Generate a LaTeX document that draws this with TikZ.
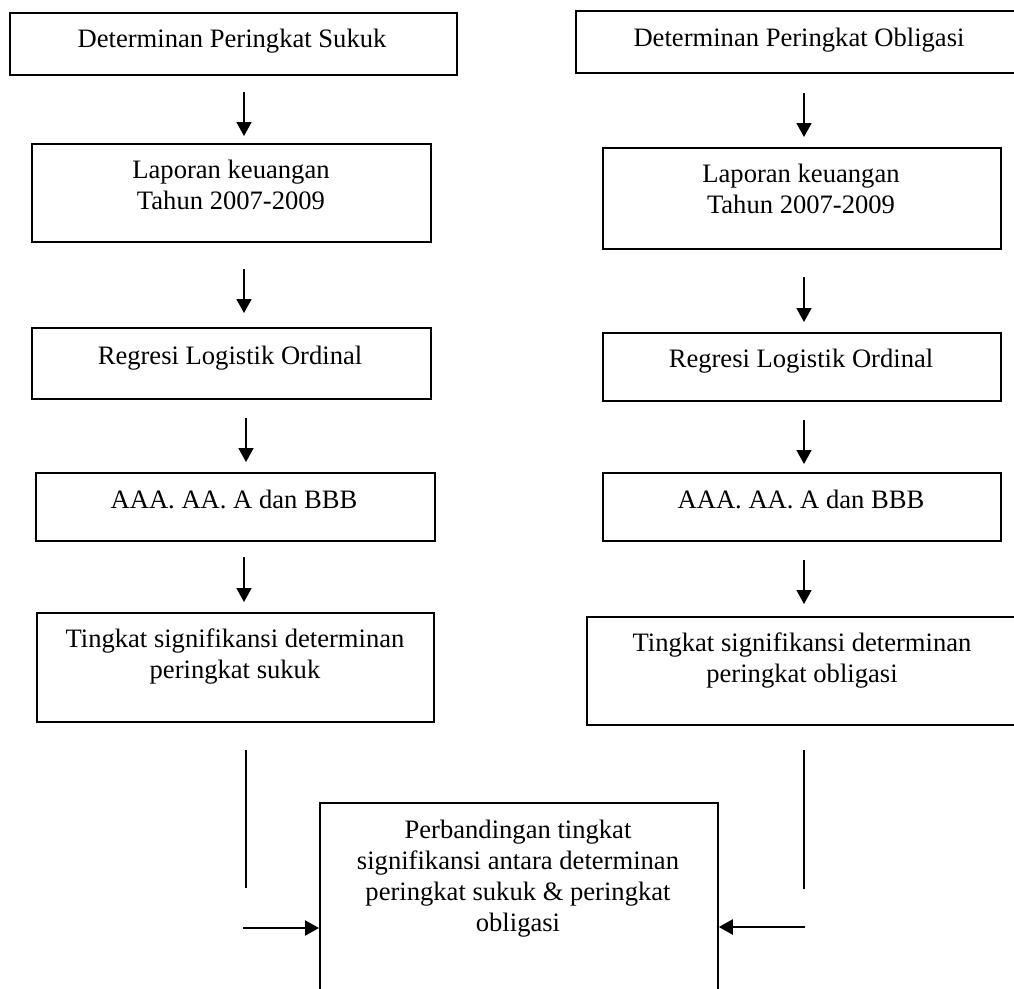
\documentclass[tikz,border=0pt]{standalone}
\usepackage{fontspec}
\setmainfont{Liberation Serif}
\usetikzlibrary{arrows.meta}
\begin{document}
\begin{tikzpicture}[x=1pt,y=-1pt,
  box/.style={draw=black, line width=1.8pt, rectangle, inner sep=0pt, anchor=north west},
  lbl/.style={anchor=base, align=center, inner sep=0pt, font=\fontsize{26.6}{31}\selectfont},
  arr/.style={line width=1.7pt, -{Triangle[width=15pt,length=14pt]}},
  plain/.style={line width=1.4pt}
]
\useasboundingbox (0,0) rectangle (1014,988);
\clip (0,0) rectangle (1014,988);
\fill[white] (0,0) rectangle (1014,988);

% left column boxes
\node[box, minimum width=447pt, minimum height=62pt] (L1) at (9,12) {};
\node[box, minimum width=399pt, minimum height=98pt] (L2) at (31,143) {};
\node[box, minimum width=399pt, minimum height=71pt] (L3) at (31,327) {};
\node[box, minimum width=399pt, minimum height=68pt] (L4) at (35,472) {};
\node[box, minimum width=397pt, minimum height=109pt] (L5) at (36,612) {};

% right column boxes
\node[box, minimum width=460pt, minimum height=62pt] (R1) at (575,10) {};
\node[box, minimum width=398pt, minimum height=101pt] (R2) at (602,147) {};
\node[box, minimum width=398pt, minimum height=68pt] (R3) at (602,332) {};
\node[box, minimum width=398pt, minimum height=68pt] (R4) at (602,472) {};
\node[box, minimum width=440pt, minimum height=108pt] (R5) at (586,616) {};

% bottom box
\node[box, minimum width=398pt, minimum height=220pt] (B) at (319,802) {};

% texts (anchor = baseline of last line)
\node[lbl] (tL1) at (232,47) {Determinan Peringkat Sukuk};
\node[lbl] (tL2) at (231,209) {Laporan keuangan\\Tahun 2007-2009};
\node[lbl] (tL3) at (230,364) {Regresi Logistik Ordinal};
\node[lbl] (tL4) at (234,508) {AAA. AA. A dan BBB};
\node[lbl] (tL5) at (235,678) {Tingkat signifikansi determinan\\peringkat sukuk};

\node[lbl] (tR1) at (799,46) {Determinan Peringkat Obligasi};
\node[lbl] (tR2) at (801,213) {Laporan keuangan\\Tahun 2007-2009};
\node[lbl] (tR3) at (801,367) {Regresi Logistik Ordinal};
\node[lbl] (tR4) at (801,508) {AAA. AA. A dan BBB};
\node[lbl] (tR5) at (802,682) {Tingkat signifikansi determinan\\peringkat obligasi};

\node[lbl] (tB) at (518,931) {Perbandingan tingkat\\signifikansi antara determinan\\peringkat sukuk \& peringkat\\obligasi};

% arrow end points
\coordinate (a1s) at (244,92);  \coordinate (a1e) at (244,136);
\coordinate (a2s) at (244,269); \coordinate (a2e) at (244,313);
\coordinate (a3s) at (246,418); \coordinate (a3e) at (246,462);
\coordinate (a4s) at (244,557); \coordinate (a4e) at (244,602);
\coordinate (b1s) at (804,93);  \coordinate (b1e) at (804,137);
\coordinate (b2s) at (804,277); \coordinate (b2e) at (804,322);
\coordinate (b3s) at (804,420); \coordinate (b3e) at (804,464);
\coordinate (b4s) at (804,560); \coordinate (b4e) at (804,604);
\coordinate (lvs) at (246,750); \coordinate (lve) at (246,888);
\coordinate (rvs) at (804,750); \coordinate (rve) at (804,889);
\coordinate (lhs) at (243,928);
\coordinate (rhs) at (805,927);

\draw[arr] (a1s) -- (a1e);
\draw[arr] (a2s) -- (a2e);
\draw[arr] (a3s) -- (a3e);
\draw[arr] (a4s) -- (a4e);
\draw[arr] (b1s) -- (b1e);
\draw[arr] (b2s) -- (b2e);
\draw[arr] (b3s) -- (b3e);
\draw[arr] (b4s) -- (b4e);

\draw[plain] (lvs) -- (lve);
\draw[plain] (rvs) -- (rve);

\draw[arr, line width=2.2pt] (lhs) -- (lhs -| B.west);
\draw[arr, line width=2.2pt] (rhs) -- (rhs -| B.east);
\end{tikzpicture}
\end{document}
